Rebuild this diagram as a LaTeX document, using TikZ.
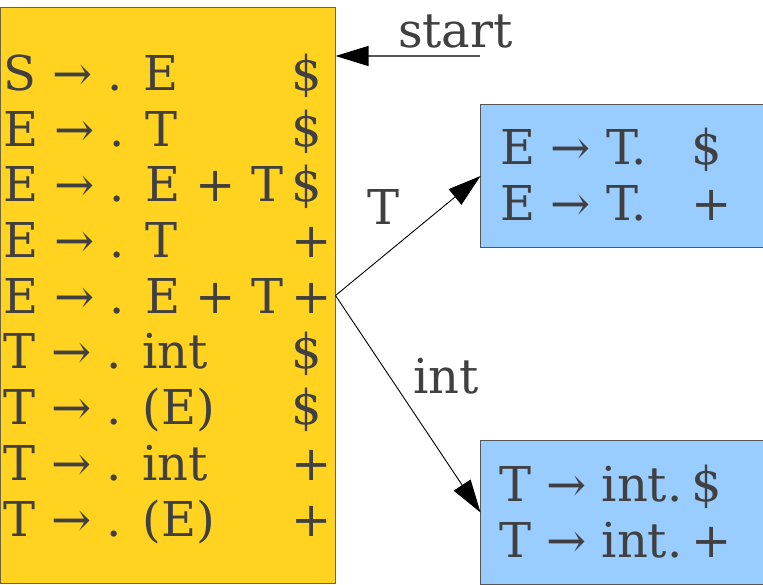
\documentclass[tikz,border=0pt]{standalone}
\usepackage{fontspec}
\setmainfont{DejaVu Serif}
\usetikzlibrary{arrows.meta}
\definecolor{txt}{HTML}{404040}
\definecolor{ygold}{HTML}{FFD320}
\definecolor{ybord}{HTML}{6E6440}
\definecolor{lblue}{HTML}{99CCFF}
\definecolor{bbord}{HTML}{555555}
\definecolor{sline}{HTML}{555555}
\begin{document}
\begin{tikzpicture}[x=1pt,y=-1pt,
  every node/.style={font=\fontsize{48}{56}\selectfont, text=txt, inner sep=0pt, outer sep=0pt},
  row/.style={anchor=base west},
  yel/.style={draw=ybord, fill=ygold, line width=1pt, minimum width=335pt, minimum height=576pt},
  blu/.style={draw=bbord, fill=lblue, line width=1pt, minimum width=320pt, minimum height=143pt},
  conn/.style={draw=black, line width=0.9pt, -{Triangle[length=33pt,width=20pt]}},
  startconn/.style={draw=sline, line width=1.3pt, -{Triangle[length=33pt,width=20pt,color=black]}}
]
\useasboundingbox (0,0) rectangle (763,584);
\node[yel] (Y) at (168,295.5) {};
\node[blu] (B1) at (640.5,176) {};
\node[blu, minimum height=144pt] (B2) at (640.5,512.5) {};

% yellow box rows
\node[row] (r1) at (4,90)  {\makebox[288pt][l]{S → . E}\$};
\node[row] (r2) at (4,146) {\makebox[288pt][l]{E → . T}\$};
\node[row] (r3) at (4,201) {\makebox[288pt][l]{E → . E + T}\$};
\node[row] (r4) at (4,257) {\makebox[288pt][l]{E → . T}+};
\node[row] (r5) at (4,313) {\makebox[288pt][l]{E → . E + T}+};
\node[row] (r6) at (4,368) {\makebox[288pt][l]{T → . int}\$};
\node[row] (r7) at (4,424) {\makebox[288pt][l]{T → . (E)}\$};
\node[row] (r8) at (4,480) {\makebox[288pt][l]{T → . int}+};
\node[row] (r9) at (4,536) {\makebox[288pt][l]{T → . (E)}+};

% blue boxes rows
\node[row] (a1) at (500.5,164) {\makebox[191pt][l]{E → T.}\$};
\node[row] (a2) at (500.5,220) {\makebox[191pt][l]{E → T.}+};
\node[row] (b1) at (499,501) {\makebox[192.5pt][l]{T → int.}\$};
\node[row] (b2) at (499,557) {\makebox[192.5pt][l]{T → int.}+};

% labels
\node[row] (lstart) at (398,47) {start};
\node[row] (lT) at (367.5,224) {T};
\node[row] (lint) at (413.5,393) {int};

% connectors
\coordinate (s0) at (480,56);
\draw[startconn] (s0) -- (s0 -| Y.east);
\draw[conn] (Y.east) -- (B1.west);
\draw[conn] (Y.east) -- (B2.west);
\end{tikzpicture}
\end{document}
